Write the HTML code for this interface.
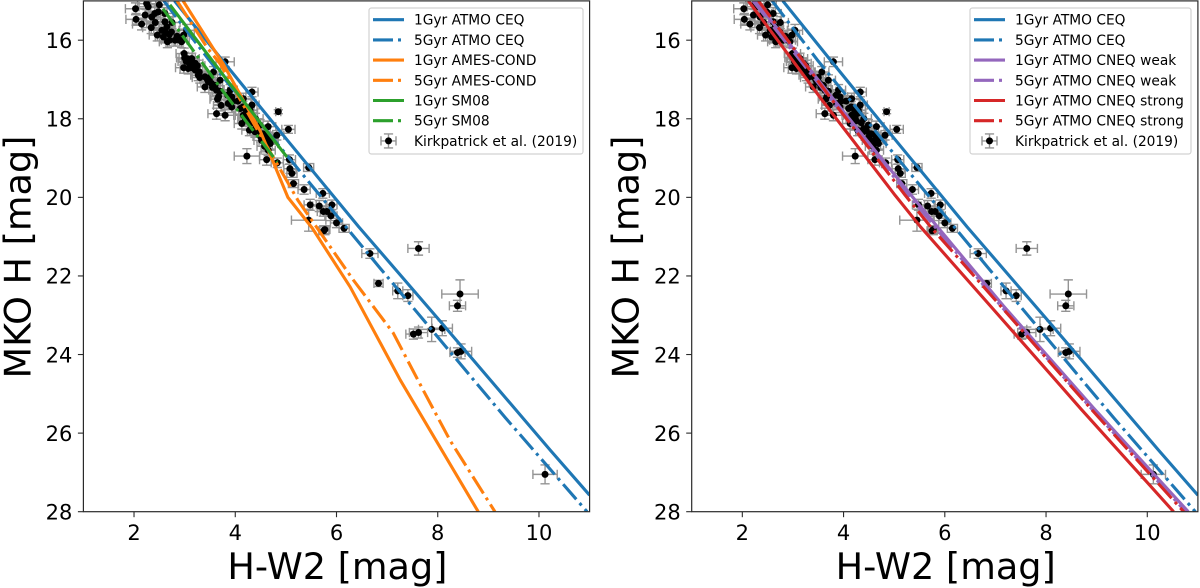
<!DOCTYPE html>
<html>
<head>
<meta charset="utf-8">
<title>Colour-magnitude diagrams</title>
<style>
html,body{margin:0;padding:0;background:#fff;}
svg{display:block;filter:blur(0.35px);}
text{font-family:"DejaVu Sans","Liberation Sans",sans-serif;fill:#000;}
</style>
</head>
<body>
<svg id="figure" xmlns="http://www.w3.org/2000/svg" width="1200" height="588" viewBox="0 0 1200 588"></svg>
<script>
/* Kirkpatrick et al. (2019) sample */
const hw2 = [2.03,2.25,2.28,2.04,2.22,2.15,2.41,2.48,2.35,2.34,2.61,2.61,2.65,2.55,2.46,2.74,2.58,2.66,2.81,2.98,3.04,2.94,2.99,3.05,3.03,2.98,3.07,3.14,3.21,3.21,3.29,3.27,3.4,3.4,3.47,3.53,3.6,3.63,3.67,3.7,3.57,3.8,3.72,3.63,3.8,3.86,3.93,3.93,3.9,4.16,4.33,4.33,4.1,4.16,4.23,4.13,4.28,4.39,4.29,4.49,4.54,4.65,4.82,4.85,5.05,4.62,4.69,4.52,4.23,4.62,4.83,5.07,5.45,5.08,5.12,5.15,5.36,5.73,5.91,5.48,5.66,5.74,5.81,5.89,6.0,6.15,5.77,5.75,5.45,7.62,8.44,8.39,6.66,6.83,7.21,7.41,7.52,7.62,7.88,8.09,8.39,8.46,10.12,
  4.2,4.25,4.35,4.4,4.45,4.5,4.6,4.58,4.65,4.7,4.4,4.3,4.15,4.22,2.5,2.42,2.7,2.75,2.85,2.62,2.7,2.9,3.0,3.1,3.15,3.25,3.3,3.45,3.55,3.5,3.7,3.65,3.85,3.95,4.05];
const mkoH = [15.2,15.07,15.15,15.47,15.36,15.59,15.32,15.28,15.41,15.68,15.32,15.53,15.66,15.75,15.87,15.79,15.92,16.04,16.0,15.87,15.75,16.04,16.34,16.47,16.54,16.7,16.72,16.47,16.59,16.76,16.81,16.89,16.93,17.19,17.06,17.1,17.15,17.27,17.44,17.02,16.81,16.55,17.66,17.87,17.91,17.61,17.7,17.44,17.27,17.49,17.32,17.65,17.74,17.91,17.95,18.12,18.29,18.33,17.78,18.16,18.38,18.2,18.42,17.82,18.27,18.55,18.63,18.55,18.95,19.04,19.12,19.04,19.24,19.27,19.39,19.65,19.8,19.9,20.19,20.19,20.22,20.36,20.36,20.47,20.65,20.79,20.82,20.85,20.58,21.3,22.46,22.76,21.43,22.19,22.38,22.5,23.48,23.44,23.36,23.33,23.95,23.92,27.05,
  18.0,18.05,18.1,18.25,18.3,18.45,18.4,18.7,18.8,18.5,18.0,17.85,17.7,17.8,15.1,15.55,15.85,15.55,15.9,15.8,16.0,16.0,16.45,16.6,16.7,16.65,16.95,17.0,17.2,16.95,17.3,17.5,17.4,17.55,17.55];
const hw2Err = [0.2,0.18,0.18,0.2,0.18,0.18,0.17,0.17,0.17,0.17,0.16,0.16,0.16,0.16,0.16,0.16,0.16,0.16,0.15,0.15,0.15,0.15,0.16,0.16,0.16,0.16,0.16,0.15,0.15,0.15,0.15,0.15,0.15,0.15,0.15,0.15,0.15,0.15,0.15,0.14,0.14,0.18,0.15,0.17,0.17,0.15,0.15,0.15,0.14,0.15,0.12,0.14,0.15,0.16,0.16,0.15,0.15,0.15,0.14,0.15,0.15,0.15,0.14,0.05,0.13,0.15,0.15,0.15,0.25,0.14,0.12,0.12,0.1,0.12,0.1,0.1,0.12,0.13,0.1,0.12,0.13,0.12,0.13,0.12,0.12,0.1,0.1,0.1,0.34,0.21,0.36,0.16,0.16,0.09,0.1,0.1,0.15,0.18,0.26,0.2,0.15,0.21,0.24,
  0.15,0.15,0.15,0.14,0.15,0.15,0.14,0.15,0.14,0.15,0.15,0.14,0.15,0.15,0.17,0.17,0.16,0.16,0.16,0.16,0.16,0.15,0.16,0.16,0.16,0.15,0.15,0.15,0.15,0.15,0.15,0.15,0.15,0.15,0.15];
const mkoHErr = [0.15,0.15,0.15,0.15,0.15,0.15,0.15,0.15,0.15,0.15,0.15,0.15,0.15,0.15,0.15,0.15,0.15,0.15,0.15,0.15,0.15,0.15,0.14,0.14,0.14,0.14,0.14,0.14,0.14,0.14,0.14,0.14,0.14,0.14,0.14,0.14,0.14,0.14,0.14,0.14,0.14,0.12,0.14,0.14,0.14,0.14,0.14,0.14,0.14,0.14,0.12,0.14,0.14,0.14,0.14,0.14,0.14,0.14,0.14,0.14,0.14,0.14,0.12,0.05,0.1,0.14,0.14,0.14,0.19,0.14,0.12,0.12,0.1,0.12,0.1,0.1,0.12,0.12,0.12,0.14,0.14,0.12,0.12,0.12,0.12,0.1,0.1,0.1,0.28,0.17,0.36,0.14,0.12,0.08,0.2,0.15,0.13,0.14,0.31,0.19,0.12,0.19,0.24,
  0.14,0.14,0.14,0.14,0.14,0.14,0.14,0.14,0.14,0.14,0.14,0.14,0.14,0.14,0.15,0.15,0.15,0.15,0.15,0.15,0.15,0.15,0.14,0.14,0.14,0.14,0.14,0.14,0.14,0.14,0.14,0.14,0.14,0.14,0.14];

/* Model isochrones: colour and absolute magnitude */
const ceq1Color = [2.8,3.8,5.0,6.44,8.0,10.22,11.0];
const ceq1Mag = [15.0,16.6,18.5,20.75,23.08,26.43,27.58];
const ceq5Color = [2.59,3.48,5.0,6.84,9.33,10.95];
const ceq5Mag = [15.0,16.5,18.9,21.77,25.6,28.0];
const ames1Color = [2.97,3.56,3.76,4.49,4.75,5.04,5.52,6.27,7.26,8.8];
const ames1Mag = [15.0,16.2,16.6,18.3,19.1,20.0,20.78,22.28,24.65,28.0];
const ames5Color = [2.85,3.45,3.7,4.4,4.85,5.24,6.33,7.12,7.71,8.25,9.13];
const ames5Mag = [15.0,16.2,16.6,18.2,19.2,20.08,22.1,23.45,24.9,26.2,28.0];
const sm1Color = [2.71,3.8,5.02];
const sm1Mag = [15.1,16.95,18.97];
const sm5Color = [2.57,3.7,4.83];
const sm5Mag = [15.2,17.2,19.1];
const weak1Color = [2.26,3.8,5.37,7.15,8.93,10.81];
const weak1Mag = [15.0,17.5,20.0,22.75,25.35,28.0];
const weak5Color = [2.21,3.75,5.32,7.1,8.88,10.76];
const weak5Mag = [15.0,17.5,20.0,22.75,25.35,28.0];
const strong1Color = [2.12,3.59,5.02,5.52,6.96,8.7,10.52];
const strong1Mag = [15.0,17.55,19.95,20.75,22.85,25.4,28.0];
const strong5Color = [2.32,3.79,5.22,5.72,7.16,8.9,10.72];
const strong5Mag = [15.0,17.55,19.95,20.75,22.85,25.4,28.0];

/* Axis ticks */
const xTicks = [2,4,6,8,10];
const yTicks = [16,18,20,22,24,26,28];

/* Series labels */
const seriesLeftLabels = ['1Gyr ATMO CEQ','5Gyr ATMO CEQ','1Gyr AMES-COND','5Gyr AMES-COND','1Gyr SM08','5Gyr SM08'];
const seriesRightLabels = ['1Gyr ATMO CEQ','5Gyr ATMO CEQ','1Gyr ATMO CNEQ weak','5Gyr ATMO CNEQ weak','1Gyr ATMO CNEQ strong','5Gyr ATMO CNEQ strong'];
const scatterLabel = 'Kirkpatrick et al. (2019)';

const NS = 'http://www.w3.org/2000/svg';
const svg = document.getElementById('figure');
const BLUE = '#1f77b4', ORANGE = '#ff7f0e', GREEN = '#2ca02c', PURPLE = '#9467bd', RED = '#d62728';
const DASHDOT = '20 5 3 5';
const SPINE = '#2a2a2a';

function el(parent, tag, attrs, txt) {
  const n = document.createElementNS(NS, tag);
  for (const k in attrs) n.setAttribute(k, attrs[k]);
  if (txt !== undefined) n.textContent = txt;
  parent.appendChild(n);
  return n;
}
function slug(s) {
  return s.toLowerCase().replace(/[^a-z0-9]+/g, '-').replace(/^-|-$/g, '');
}

function drawPanel(panelName, left, legendBox, curves, labels) {
  const right = left + 506.2, top = 0.9, bottom = 511.7;
  const xScale = v => left + (v - 1) / 10 * 506.2;
  const yScale = v => top + (v - 15) / 13 * (bottom - top);

  const g = el(svg, 'g', {});
  
  

  const clipId = panelName + '-clip';
  const defs = el(g, 'defs', {});
  const clip = el(defs, 'clipPath', {id: clipId});
  el(clip, 'rect', {x: left, y: top, width: right - left, height: bottom - top});

  const plot = el(g, 'g', {'clip-path': 'url(#' + clipId + ')'});
  
  

  /* error bars and points */
  const pts = el(plot, 'g', {});
  
  
  const CAP = 4.6;
  hw2.forEach((c, i) => {
    const px = xScale(c), py = yScale(mkoH[i]);
    const x0 = xScale(c - hw2Err[i]), x1 = xScale(c + hw2Err[i]);
    const y0 = yScale(mkoH[i] - mkoHErr[i]), y1 = yScale(mkoH[i] + mkoHErr[i]);
    const d = 'M' + x0 + ' ' + py + 'H' + x1 + 'M' + px + ' ' + y0 + 'V' + y1 +
      'M' + x0 + ' ' + (py - CAP) + 'V' + (py + CAP) + 'M' + x1 + ' ' + (py - CAP) + 'V' + (py + CAP) +
      'M' + (px - CAP) + ' ' + y0 + 'H' + (px + CAP) + 'M' + (px - CAP) + ' ' + y1 + 'H' + (px + CAP);
    const bar = el(pts, 'path', {d: d, fill: 'none', stroke: '#949494', 'stroke-width': 1.4});
    
    
  });
  hw2.forEach((c, i) => {
    const dot = el(pts, 'circle', {cx: xScale(c), cy: yScale(mkoH[i]), r: 3.5, fill: '#000'});
    
    
  });

  /* model lines */
  curves.forEach((cv, i) => {
    const d = cv.x.map((v, j) => (j ? 'L' : 'M') + xScale(v) + ' ' + yScale(cv.y[j])).join('');
    const attrs = {d: d, fill: 'none', stroke: cv.color, 'stroke-width': 3.1, 'stroke-linejoin': 'round'};
    if (cv.dash) attrs['stroke-dasharray'] = DASHDOT;
    const line = el(plot, 'path', attrs);
    
    
  });

  /* spines */
  const frame = el(g, 'rect', {x: left, y: top, width: right - left, height: bottom - top, fill: 'none', stroke: SPINE, 'stroke-width': 1.2});
  
  

  /* x ticks */
  xTicks.forEach(t => {
    const x = xScale(t);
    const tk = el(g, 'line', {x1: x, x2: x, y1: bottom, y2: bottom + 5.5, stroke: SPINE, 'stroke-width': 1.1});
    
    
    const lb = el(g, 'text', {x: x, y: 540, 'text-anchor': 'middle', 'font-size': 21}, String(t));
    
    
  });
  /* y ticks */
  yTicks.forEach(t => {
    const y = yScale(t);
    const tk = el(g, 'line', {x1: left, x2: left - 5.5, y1: y, y2: y, stroke: SPINE, 'stroke-width': 1.1});
    
    
    const lb = el(g, 'text', {x: left - 11, y: y + 7.8, 'text-anchor': 'end', 'font-size': 21}, String(t));
    
    
  });

  /* axis titles */
  const xt = el(g, 'text', {x: left + 254, y: 579, 'text-anchor': 'middle', 'font-size': 36.6}, 'H-W2 [mag]');
  
  
  const ytx = left - 53, yty = 257;
  const yt = el(g, 'text', {x: ytx, y: yty, 'text-anchor': 'middle', 'font-size': 36.6, transform: 'rotate(-90 ' + ytx + ' ' + yty + ')'}, 'MKO H [mag]');
  
  

  /* legend */
  const lg = el(g, 'g', {});
  
  
  el(lg, 'rect', {x: legendBox.x, y: 8, width: legendBox.w, height: 146, rx: 2.5, fill: '#fff', 'fill-opacity': 0.85, stroke: '#d2d2d2', 'stroke-width': 1.2});
  const rowY = i => 19.7 + i * 20.2;
  curves.forEach((cv, i) => {
    const y = rowY(i);
    const entry = el(lg, 'g', {});
    
    
    const a = {x1: legendBox.x + 4, x2: legendBox.x + 35, y1: y, y2: y, stroke: cv.color, 'stroke-width': 3.1};
    if (cv.dash) a['stroke-dasharray'] = DASHDOT;
    el(entry, 'line', a);
    el(entry, 'text', {x: legendBox.x + 45, y: y + 5, 'font-size': 13.75}, labels[i]);
  });
  const y6 = rowY(6), mx = legendBox.x + 19.5;
  const entry = el(lg, 'g', {});
  
  
  el(entry, 'path', {d: 'M' + (mx - 7.5) + ' ' + y6 + 'H' + (mx + 7.5) + 'M' + mx + ' ' + (y6 - 7) + 'V' + (y6 + 7) +
    'M' + (mx - 7.5) + ' ' + (y6 - 4.6) + 'V' + (y6 + 4.6) + 'M' + (mx + 7.5) + ' ' + (y6 - 4.6) + 'V' + (y6 + 4.6) +
    'M' + (mx - 4.6) + ' ' + (y6 - 7) + 'H' + (mx + 4.6) + 'M' + (mx - 4.6) + ' ' + (y6 + 7) + 'H' + (mx + 4.6),
    fill: 'none', stroke: '#949494', 'stroke-width': 1.4});
  el(entry, 'circle', {cx: mx, cy: y6, r: 3.5, fill: '#000'});
  el(entry, 'text', {x: legendBox.x + 45, y: y6 + 5, 'font-size': 13.75}, scatterLabel);
}

drawPanel('left-panel', 83.4, {x: 369, w: 214}, [
  {x: ceq1Color, y: ceq1Mag, color: BLUE},
  {x: ceq5Color, y: ceq5Mag, color: BLUE, dash: true},
  {x: ames1Color, y: ames1Mag, color: ORANGE},
  {x: ames5Color, y: ames5Mag, color: ORANGE, dash: true},
  {x: sm1Color, y: sm1Mag, color: GREEN},
  {x: sm5Color, y: sm5Mag, color: GREEN, dash: true}
], seriesLeftLabels);

drawPanel('right-panel', 691.7, {x: 970, w: 221}, [
  {x: ceq1Color, y: ceq1Mag, color: BLUE},
  {x: ceq5Color, y: ceq5Mag, color: BLUE, dash: true},
  {x: weak1Color, y: weak1Mag, color: PURPLE},
  {x: weak5Color, y: weak5Mag, color: PURPLE, dash: true},
  {x: strong1Color, y: strong1Mag, color: RED},
  {x: strong5Color, y: strong5Mag, color: RED, dash: true}
], seriesRightLabels);
</script>
</body>
</html>
